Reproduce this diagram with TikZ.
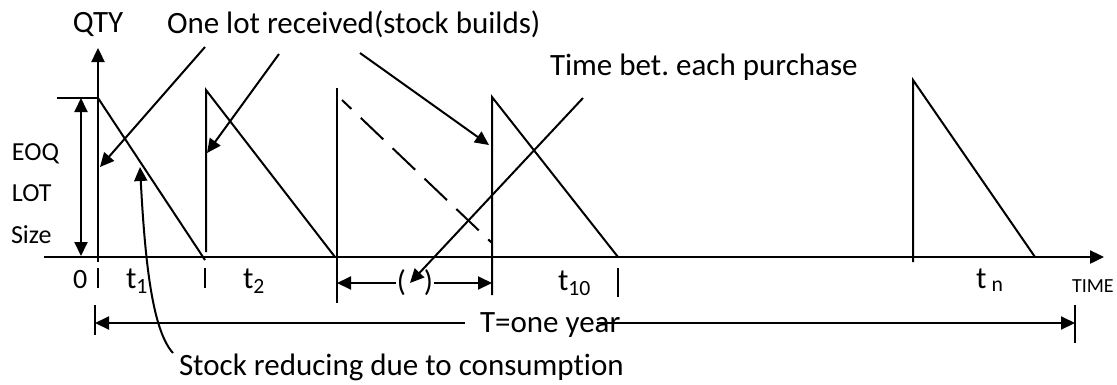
\documentclass[tikz,border=0pt]{standalone}
\usepackage{fontspec}
\setmainfont{Carlito}[Ligatures=NoCommon]
\frenchspacing
\usetikzlibrary{arrows.meta}
\tikzset{
	mydash/.style={dashed, dash pattern=on 31pt off 13pt, dash phase=18pt},
	mytip/.style={-{Triangle[length=14pt, width=13pt]}},
	mytips/.style={{Triangle[length=14pt, width=13pt]}-{Triangle[length=14pt, width=13pt]}},
	axisline/.style={line width=2.4pt},
	lbl/.style={font=\fontsize{31}{36}\selectfont, inner sep=0pt, anchor=base west},
	sidelbl/.style={font=\fontsize{26}{31}\selectfont, inner sep=0pt, anchor=base west},
	smalllbl/.style={font=\fontsize{20}{24}\selectfont, inner sep=0pt, anchor=base west}
}

\begin{document}
\begin{tikzpicture}[x=1pt, y=-1pt, line width=2pt]
	\useasboundingbox (0, 0) rectangle (1117, 384);
	
	% axes
	\coordinate (xs) at (44, 257);
	\coordinate (xe) at (1104, 257);
	\coordinate (ys) at (98, 262);
	\coordinate (ye) at (98, 48);
	\draw[axisline, mytip] (xs) -- (xe);
	\draw[axisline, mytip] (ys) -- (ye);
	\node[lbl, anchor=base] (qty) at (98, 32) {QTY};
	\node[smalllbl] (time) at (1071, 292) {TIME};
	
	% lot size
	\coordinate (top) at (98, 98);
	\draw (57, 98) -- (top);
	\draw[mytips] (81, 98) -- (81, 256);
	\node[sidelbl] (eoq) at (11, 160) {EOQ};
	\node[sidelbl] (lotsz) at (11, 201) {LOT};
	\node[sidelbl] (size) at (10, 243) {Size};
	
	% cycles
	\coordinate (ctwo) at (206, 90);
	\coordinate (cthree) at (337, 88);
	\coordinate (cfour) at (492, 97);
	\coordinate (cn) at (913, 80);
	\draw (top) -- (205, 260);
	\draw (206, 252) -- (ctwo) -- (335, 257);
	\draw (cthree) -- (337, 303);
	\draw[mydash] (342, 100) -- (492, 243);
	\draw (492, 295) -- (cfour) -- (618, 257);
	\draw (913, 262) -- (cn) -- (1035, 257);
	
	% ticks and periods
	\draw (98, 268) -- (98, 288);
	\draw (205, 268) -- (205, 288);
	\draw (618, 268) -- (618, 297);
	\node[lbl, font=\fontsize{28}{34}\selectfont] (zero) at (72, 288) {0};
	\node[lbl] (tone) at (125, 288) {t\textsubscript{1}};
	\node[lbl] (ttwo) at (242, 288) {t\textsubscript{2}};
	\node[lbl] (tten) at (557, 290) {t\textsubscript{10}};
	\node[lbl] (tn) at (975, 288) {t\,\textsubscript{n}};
	
	% time between purchases
	\node[font=\fontsize{30}{36}\selectfont, inner sep=0pt] (gap) at (415, 283) {(\hspace{18pt})};
	\draw[mytip] (gap.west) -- (gap.west -| cthree);
	\draw[mytip] (gap.east) -- (gap.east -| cfour);
	
	% one year
	\coordinate (yl) at (95, 323);
	\coordinate (yr) at (1075, 323);
	\draw (95, 305) -- (95, 335);
	\draw (1075, 305) -- (1075, 343);
	\node[lbl] (year) at (479, 332) {T=one year};
	\draw[mytip] ([xshift=-14pt]year.west |- yl) -- (yl);
	\draw[mytip] ([xshift=-24pt]year.east |- yr) -- (yr);
	
	% call-outs
	\node[lbl] (lot) at (166, 33) {One lot received(stock builds)};
	\node[lbl] (bet) at (549, 75) {Time bet. each purchase};
	\node[lbl] (stock) at (178, 375) {Stock reducing due to consumption};
	\coordinate (la) at (205, 47);
	\coordinate (lb) at (279, 54);
	\coordinate (lc) at (360, 53);
	\coordinate (ba) at (583, 98);
	\coordinate (sa) at (173, 353);
	\draw[mytip] (la) -- (100, 167);
	\draw[mytip] (lb) -- (207, 153);
	\draw[mytip] (lc) -- (489, 145);
	\draw[mytip] (ba) -- ([xshift=-5pt]gap.center);
	\draw[mytip] (sa) .. controls (152, 330) and (145, 260) .. (140, 167);
\end{tikzpicture}
\end{document}
